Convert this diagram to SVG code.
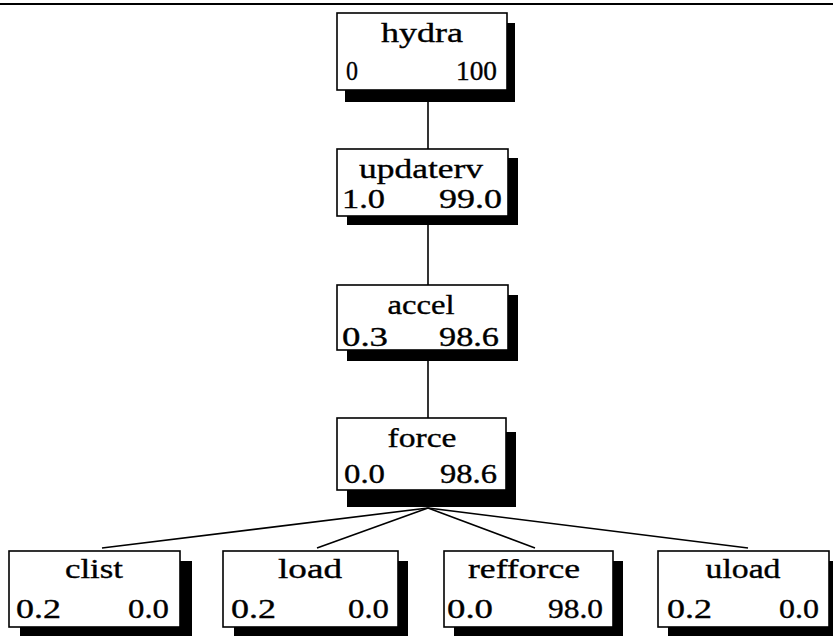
<svg xmlns="http://www.w3.org/2000/svg" width="833" height="636" viewBox="0 0 833 636">
<style>
.box{fill:#fff;stroke:#000;stroke-width:1.6}
.sh{fill:#000}
.c{stroke:#000;stroke-width:1.6;fill:none}
text{font-family:"Liberation Serif","Times New Roman",serif;font-size:27px;fill:#000;stroke:#000;stroke-width:0.35}
.m{text-anchor:middle}
.e{text-anchor:end}
</style>
<rect width="833" height="636" fill="#fff"/>
<line x1="0" y1="4" x2="833" y2="4" stroke="#000" stroke-width="2"/>
<g id="connectors">
<line class="c" x1="428" y1="90" x2="428" y2="149"/>
<line class="c" x1="428" y1="216" x2="428" y2="285"/>
<line class="c" x1="428" y1="350" x2="428" y2="418"/>
<line class="c" x1="428" y1="508" x2="102" y2="548"/>
<line class="c" x1="428" y1="508" x2="317" y2="548"/>
<line class="c" x1="428" y1="508" x2="535" y2="548"/>
<line class="c" x1="428" y1="508" x2="748" y2="548"/>
</g>
<g id="hydra">
<rect class="sh" x="345" y="23" width="170" height="79"/>
<rect class="box" x="337" y="13" width="170" height="77"/>
<text class="m" x="422" y="42" textLength="82" lengthAdjust="spacingAndGlyphs">hydra</text>
<text x="346" y="80" textLength="12" lengthAdjust="spacingAndGlyphs">0</text>
<text class="e" x="497" y="80" textLength="41" lengthAdjust="spacingAndGlyphs">100</text>
</g>
<g id="updaterv">
<rect class="sh" x="347" y="158" width="171" height="67"/>
<rect class="box" x="337" y="149" width="171" height="67"/>
<text class="m" x="421" y="178" textLength="124" lengthAdjust="spacingAndGlyphs">updaterv</text>
<text x="342" y="208" textLength="43" lengthAdjust="spacingAndGlyphs">1.0</text>
<text class="e" x="502" y="208" textLength="63" lengthAdjust="spacingAndGlyphs">99.0</text>
</g>
<g id="accel">
<rect class="sh" x="347" y="295" width="171" height="66"/>
<rect class="box" x="337" y="285" width="171" height="65"/>
<text class="m" x="421" y="314" textLength="67" lengthAdjust="spacingAndGlyphs">accel</text>
<text x="342" y="346" textLength="46" lengthAdjust="spacingAndGlyphs">0.3</text>
<text class="e" x="499" y="346" textLength="60" lengthAdjust="spacingAndGlyphs">98.6</text>
</g>
<g id="force">
<rect class="sh" x="347" y="432" width="169" height="75"/>
<rect class="box" x="337" y="418" width="169" height="72"/>
<text class="m" x="422" y="447" textLength="69" lengthAdjust="spacingAndGlyphs">force</text>
<text x="344" y="483" textLength="41" lengthAdjust="spacingAndGlyphs">0.0</text>
<text class="e" x="497" y="483" textLength="57" lengthAdjust="spacingAndGlyphs">98.6</text>
</g>
<g id="clist">
<rect class="sh" x="20" y="561" width="172" height="76"/>
<rect class="box" x="9" y="551" width="171" height="76"/>
<text class="m" x="94" y="578" textLength="58" lengthAdjust="spacingAndGlyphs">clist</text>
<text x="16" y="618" textLength="45" lengthAdjust="spacingAndGlyphs">0.2</text>
<text class="e" x="169" y="618" textLength="41" lengthAdjust="spacingAndGlyphs">0.0</text>
</g>
<g id="load">
<rect class="sh" x="234" y="561" width="174" height="76"/>
<rect class="box" x="223" y="551" width="175" height="76"/>
<text class="m" x="310" y="578" textLength="64" lengthAdjust="spacingAndGlyphs">load</text>
<text x="231" y="618" textLength="45" lengthAdjust="spacingAndGlyphs">0.2</text>
<text class="e" x="389" y="618" textLength="41" lengthAdjust="spacingAndGlyphs">0.0</text>
</g>
<g id="refforce">
<rect class="sh" x="454" y="561" width="169" height="76"/>
<rect class="box" x="444" y="551" width="169" height="76"/>
<text class="m" x="524" y="578" textLength="112" lengthAdjust="spacingAndGlyphs">refforce</text>
<text x="447" y="618" textLength="46" lengthAdjust="spacingAndGlyphs">0.0</text>
<text class="e" x="603" y="618" textLength="55" lengthAdjust="spacingAndGlyphs">98.0</text>
</g>
<g id="uload">
<rect class="sh" x="668" y="561" width="171" height="76"/>
<rect class="box" x="658" y="551" width="171" height="76"/>
<text class="m" x="743" y="578" textLength="75" lengthAdjust="spacingAndGlyphs">uload</text>
<text x="667" y="618" textLength="45" lengthAdjust="spacingAndGlyphs">0.2</text>
<text class="e" x="819" y="618" textLength="40" lengthAdjust="spacingAndGlyphs">0.0</text>
</g>
</svg>
